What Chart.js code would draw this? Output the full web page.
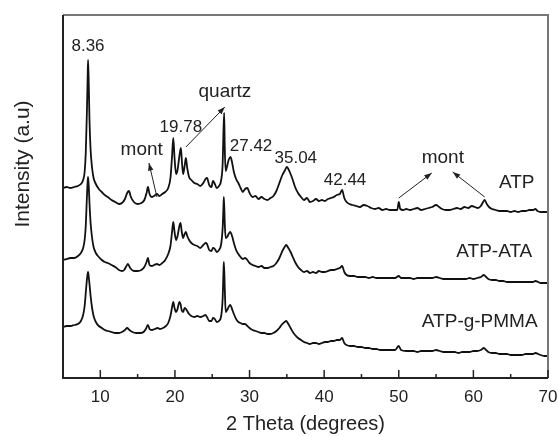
<!DOCTYPE html>
<html>
<head>
<meta charset="utf-8">
<script src="https://cdn.jsdelivr.net/npm/chart.js@4/dist/chart.umd.min.js"></script>
<style>
  html, body { margin: 0; padding: 0; background: #fff; }
  #wrap { width: 558px; height: 436px; }
</style>
</head>
<body>
<div id="wrap"><canvas id="xrdChart"></canvas></div>
<script>
// 2 theta (degrees) and intensity (a.u., stacked)
const atpTheta = [5.0, 5.5, 6.0, 6.5, 7.0, 7.4, 7.7, 7.9, 8.05, 8.2, 8.3, 8.36, 8.45, 8.55, 8.7, 8.9, 9.1, 9.4, 9.8, 10.2, 10.6, 11.0, 11.5, 12.0, 12.5, 12.9, 13.3, 13.6, 13.84, 14.1, 14.5, 15.0, 15.5, 15.9, 16.2, 16.38, 16.6, 16.9, 17.2, 17.6, 17.9, 18.3, 18.7, 19.1, 19.4, 19.6, 19.78, 19.95, 20.15, 20.35, 20.6, 20.8, 20.95, 21.1, 21.3, 21.47, 21.65, 21.9, 22.2, 22.6, 23.0, 23.4, 23.8, 24.1, 24.3, 24.6, 24.9, 25.1, 25.35, 25.6, 25.9, 26.2, 26.4, 26.5, 26.6, 26.68, 26.8, 27.0, 27.2, 27.45, 27.7, 27.9, 28.2, 28.5, 28.8, 29.1, 29.4, 29.7, 30.0, 30.4, 30.8, 31.2, 31.6, 32.0, 32.4, 32.8, 33.2, 33.6, 34.0, 34.4, 34.7, 35.0, 35.2, 35.5, 35.8, 36.1, 36.5, 36.9, 37.3, 37.7, 38.1, 38.5, 38.9, 39.3, 39.7, 40.1, 40.5, 40.9, 41.3, 41.7, 42.1, 42.4, 42.7, 43.0, 43.4, 43.8, 44.3, 44.8, 45.3, 45.8, 46.3, 46.8, 47.3, 47.8, 48.3, 48.8, 49.3, 49.8, 50.0, 50.2, 50.6, 51.0, 51.5, 52.0, 52.5, 53.0, 53.5, 54.0, 54.5, 55.0, 55.4, 55.8, 56.3, 56.8, 57.3, 57.8, 58.3, 58.8, 59.3, 59.8, 60.2, 60.6, 61.0, 61.3, 61.5, 61.8, 62.1, 62.5, 63.0, 63.5, 64.0, 64.5, 65.0, 65.5, 66.0, 66.5, 67.0, 67.5, 68.0, 68.3, 68.6, 69.0, 69.5, 70.0];
const atpIntensity = [190, 191, 190, 191, 192, 194, 198, 206, 225, 265, 300, 318, 295, 258, 228, 210, 200, 194, 189, 186, 183, 181, 178, 176, 174, 175, 179, 185, 187, 181, 176, 174, 175, 178, 185, 191, 184, 181, 182, 184, 182, 184, 186, 190, 200, 220, 240, 220, 204, 208, 222, 230, 215, 204, 212, 220, 210, 201, 198, 195, 194, 192, 195, 199, 200, 193, 191, 197, 194, 190, 192, 198, 215, 245, 265, 230, 207, 212, 218, 221, 214, 206, 199, 195, 190, 186, 189, 190, 185, 181, 182, 179, 181, 179, 178, 180, 182, 187, 195, 203, 207, 211, 209, 204, 198, 191, 185, 181, 178, 180, 176, 177, 179, 177, 178, 177, 179, 180, 181, 183, 184, 188, 180, 176, 174, 173, 172, 171, 173, 172, 170, 169, 170, 168, 169, 168, 168, 168, 176, 169, 168, 169, 168, 169, 170, 168, 169, 170, 171, 173, 171, 169, 168, 168, 169, 170, 169, 171, 170, 172, 171, 170, 172, 176, 178, 174, 171, 169, 168, 167, 167, 167, 166, 167, 166, 167, 167, 168, 168, 169, 167, 166, 166, 166];

const ataTheta = [5.0, 5.5, 6.0, 6.5, 7.0, 7.4, 7.7, 7.9, 8.05, 8.2, 8.3, 8.36, 8.45, 8.55, 8.7, 8.9, 9.1, 9.4, 9.8, 10.2, 10.6, 11.0, 11.5, 12.0, 12.5, 12.9, 13.2, 13.5, 13.7, 14.0, 14.5, 15.0, 15.5, 15.9, 16.2, 16.38, 16.6, 16.9, 17.2, 17.6, 17.9, 18.3, 18.7, 19.1, 19.4, 19.6, 19.78, 19.95, 20.15, 20.35, 20.6, 20.75, 20.9, 21.1, 21.3, 21.47, 21.65, 21.9, 22.2, 22.6, 23.0, 23.4, 23.8, 24.1, 24.3, 24.6, 24.9, 25.1, 25.35, 25.6, 25.9, 26.2, 26.4, 26.5, 26.56, 26.68, 26.8, 27.0, 27.2, 27.4, 27.7, 27.9, 28.2, 28.5, 28.8, 29.1, 29.4, 29.7, 30.0, 30.4, 30.8, 31.2, 31.6, 32.0, 32.4, 32.8, 33.2, 33.6, 34.0, 34.4, 34.7, 34.9, 35.2, 35.5, 35.8, 36.1, 36.5, 36.9, 37.3, 37.7, 38.1, 38.5, 38.9, 39.3, 39.7, 40.1, 40.5, 40.9, 41.3, 41.7, 42.1, 42.4, 42.7, 43.0, 43.5, 44.0, 44.5, 45.0, 45.5, 46.0, 46.5, 47.0, 47.5, 48.0, 48.5, 49.0, 49.5, 50.0, 50.3, 51.0, 51.5, 52.0, 52.5, 53.0, 53.5, 54.0, 54.5, 55.0, 55.5, 56.0, 56.5, 57.0, 57.5, 58.0, 58.5, 59.0, 59.5, 60.0, 60.5, 61.0, 61.4, 61.7, 62.0, 62.5, 63.0, 63.5, 64.0, 64.5, 65.0, 65.5, 66.0, 66.5, 67.0, 67.5, 68.0, 68.3, 68.7, 69.0, 69.5, 70.0];
const ataIntensity = [118, 119, 120, 120, 122, 125, 130, 138, 152, 180, 196, 201, 192, 175, 155, 140, 131, 125, 121, 118, 116, 115, 113, 111, 108, 107, 108, 112, 114, 110, 107, 107, 108, 111, 116, 120, 113, 112, 113, 114, 113, 115, 118, 124, 132, 145, 156, 146, 138, 142, 152, 155, 147, 140, 144, 146, 142, 138, 135, 133, 132, 130, 133, 135, 134, 128, 127, 130, 129, 126, 128, 134, 150, 170, 181, 155, 140, 141, 144, 146, 141, 135, 128, 124, 121, 119, 120, 118, 115, 113, 112, 111, 112, 110, 110, 111, 112, 115, 120, 127, 131, 133, 130, 126, 121, 116, 111, 108, 106, 107, 105, 106, 105, 107, 106, 106, 107, 108, 108, 109, 110, 112, 106, 103, 102, 102, 101, 101, 101, 100, 101, 100, 100, 100, 100, 100, 100, 102, 100, 100, 100, 99, 100, 100, 100, 100, 100, 101, 100, 99, 99, 99, 99, 99, 99, 99, 100, 99, 100, 101, 103, 101, 99, 98, 98, 97, 97, 96, 96, 96, 96, 96, 96, 96, 96, 97, 96, 95, 95, 95];

const pmmaTheta = [5.0, 5.5, 6.0, 6.5, 7.0, 7.4, 7.7, 7.9, 8.05, 8.2, 8.3, 8.36, 8.45, 8.55, 8.7, 8.9, 9.1, 9.4, 9.8, 10.2, 10.6, 11.0, 11.5, 12.0, 12.5, 12.9, 13.3, 13.6, 13.9, 14.3, 14.8, 15.3, 15.8, 16.1, 16.38, 16.6, 16.9, 17.3, 17.7, 18.0, 18.4, 18.8, 19.1, 19.4, 19.6, 19.78, 19.95, 20.15, 20.35, 20.6, 20.75, 20.9, 21.1, 21.3, 21.47, 21.65, 21.9, 22.2, 22.6, 23.0, 23.4, 23.8, 24.1, 24.3, 24.6, 24.9, 25.1, 25.35, 25.6, 25.9, 26.2, 26.4, 26.5, 26.56, 26.68, 26.8, 27.0, 27.2, 27.4, 27.7, 27.9, 28.2, 28.5, 28.8, 29.1, 29.4, 29.7, 30.0, 30.4, 30.8, 31.2, 31.6, 32.0, 32.4, 32.8, 33.2, 33.6, 34.0, 34.4, 34.7, 34.9, 35.2, 35.5, 35.8, 36.1, 36.5, 36.9, 37.3, 37.7, 38.1, 38.5, 38.9, 39.3, 39.7, 40.1, 40.5, 40.9, 41.3, 41.7, 42.1, 42.4, 42.7, 43.0, 43.5, 44.0, 44.5, 45.0, 45.5, 46.0, 46.5, 47.0, 47.5, 48.0, 48.5, 49.0, 49.5, 50.0, 50.3, 51.0, 51.5, 52.0, 52.5, 53.0, 53.5, 54.0, 54.5, 55.0, 55.5, 56.0, 56.5, 57.0, 57.5, 58.0, 58.5, 59.0, 59.5, 60.0, 60.5, 61.0, 61.4, 61.7, 62.0, 62.5, 63.0, 63.5, 64.0, 64.5, 65.0, 65.5, 66.0, 66.5, 67.0, 67.5, 68.0, 68.3, 68.7, 69.0, 69.5, 70.0];
const pmmaIntensity = [51, 52, 52, 53, 54, 57, 63, 72, 85, 98, 104, 106, 101, 94, 82, 70, 62, 56, 52, 50, 48, 47, 46, 45, 45, 46, 48, 50, 48, 46, 45, 45, 46, 49, 53, 49, 48, 49, 50, 49, 50, 52, 55, 62, 70, 76, 70, 66, 69, 76, 74, 68, 66, 70, 69, 67, 64, 62, 61, 62, 61, 62, 63, 61, 57, 57, 60, 59, 56, 57, 62, 80, 105, 116, 90, 66, 68, 71, 73, 68, 64, 59, 56, 55, 54, 54, 52, 50, 48, 47, 46, 45, 45, 44, 44, 45, 47, 50, 54, 56, 57, 54, 50, 46, 43, 40, 38, 36, 35, 34, 35, 35, 34, 35, 36, 36, 37, 37, 38, 38, 40, 35, 33, 32, 32, 31, 31, 30, 30, 29, 29, 28, 28, 28, 28, 28, 32, 28, 27, 27, 27, 26, 27, 27, 27, 27, 28, 27, 26, 26, 26, 26, 25, 26, 26, 26, 27, 27, 28, 30, 28, 26, 25, 25, 24, 24, 24, 23, 23, 23, 23, 24, 24, 24, 25, 24, 23, 22, 22];

const seriesNames = ["ATP", "ATP-ATA", "ATP-g-PMMA"];
const xTickValues = [10, 20, 30, 40, 50, 60, 70];
const xMinorTicks = [15, 25, 35, 45, 55, 65];

// annotation text, placed in data units (theta, intensity)
const notes = [
  { text: "8.36", x: 8.35, y: 332, size: 17 },
  { text: "mont", x: 15.55, y: 228, size: 19 },
  { text: "19.78", x: 20.8, y: 251, size: 17 },
  { text: "quartz", x: 26.7, y: 286, size: 19 },
  { text: "27.42", x: 30.2, y: 232, size: 17 },
  { text: "35.04", x: 36.2, y: 220, size: 17 },
  { text: "42.44", x: 42.8, y: 198, size: 17 },
  { text: "mont", x: 55.9, y: 220, size: 19 },
  { text: seriesNames[0], x: 65.8, y: 195, size: 19 },
  { text: seriesNames[1], x: 62.8, y: 126, size: 19 },
  { text: seriesNames[2], x: 60.85, y: 56, size: 19 }
];
const arrows = [
  { from: [17.59, 181], to: [16.52, 215] },
  { from: [21.47, 231], to: [26.69, 271] },
  { from: [50.0, 180], to: [54.42, 205] },
  { from: [61.52, 181], to: [57.23, 206] }
];

const FONT = "'Liberation Sans', Arial, sans-serif";

function toPoints(xs, ys) {
  return xs.map((x, i) => ({ x: x, y: ys[i] }));
}

const decor = {
  id: "decor",
  afterDatasetsDraw(chart) {
    const { ctx, chartArea: a, scales } = chart;
    const xs = scales.x, ys = scales.y;
    ctx.save();

    // frame: dark left/bottom, grey top/right
    ctx.lineWidth = 2;
    ctx.strokeStyle = "#777";
    ctx.beginPath();
    ctx.moveTo(a.left, a.top);
    ctx.lineTo(a.right, a.top);
    ctx.lineTo(a.right, a.bottom);
    ctx.stroke();
    ctx.strokeStyle = "#222";
    ctx.beginPath();
    ctx.moveTo(a.left, a.top);
    ctx.lineTo(a.left, a.bottom);
    ctx.lineTo(a.right, a.bottom);
    ctx.stroke();

    // inward ticks
    ctx.lineWidth = 1.5;
    xTickValues.forEach(v => {
      const px = xs.getPixelForValue(v);
      ctx.beginPath();
      ctx.moveTo(px, a.bottom);
      ctx.lineTo(px, a.bottom - 8);
      ctx.stroke();
    });
    xMinorTicks.forEach(v => {
      const px = xs.getPixelForValue(v);
      ctx.beginPath();
      ctx.moveTo(px, a.bottom);
      ctx.lineTo(px, a.bottom - 4);
      ctx.stroke();
    });

    // labels
    ctx.fillStyle = "#222";
    ctx.textAlign = "center";
    ctx.textBaseline = "middle";
    notes.forEach(n => {
      ctx.font = n.size + "px " + FONT;
      ctx.fillText(n.text, xs.getPixelForValue(n.x), ys.getPixelForValue(n.y));
    });

    // arrows
    ctx.strokeStyle = "#222";
    ctx.lineWidth = 1;
    arrows.forEach(ar => {
      const x1 = xs.getPixelForValue(ar.from[0]), y1 = ys.getPixelForValue(ar.from[1]);
      const x2 = xs.getPixelForValue(ar.to[0]), y2 = ys.getPixelForValue(ar.to[1]);
      const ang = Math.atan2(y2 - y1, x2 - x1);
      ctx.beginPath();
      ctx.moveTo(x1, y1);
      ctx.lineTo(x2, y2);
      ctx.stroke();
      ctx.beginPath();
      ctx.moveTo(x2, y2);
      ctx.lineTo(x2 - 8 * Math.cos(ang - 0.35), y2 - 8 * Math.sin(ang - 0.35));
      ctx.lineTo(x2 - 8 * Math.cos(ang + 0.35), y2 - 8 * Math.sin(ang + 0.35));
      ctx.closePath();
      ctx.fill();
    });

    // y axis title
    ctx.font = "21px " + FONT;
    ctx.translate(23, 164);
    ctx.rotate(-Math.PI / 2);
    ctx.fillText("Intensity (a.u)", 0, 0);
    ctx.restore();
  }
};

const lineStyle = {
  borderColor: "#111",
  borderWidth: 1.8,
  pointRadius: 0,
  cubicInterpolationMode: "monotone",
  fill: false
};

new Chart(document.getElementById("xrdChart"), {
  type: "line",
  data: {
    datasets: [
      { label: seriesNames[0], data: toPoints(atpTheta, atpIntensity), ...lineStyle },
      { label: seriesNames[1], data: toPoints(ataTheta, ataIntensity), ...lineStyle },
      { label: seriesNames[2], data: toPoints(pmmaTheta, pmmaIntensity), ...lineStyle }
    ]
  },
  options: {
    responsive: true,
    maintainAspectRatio: false,
    animation: false,
    layout: { padding: { left: 63, right: 10, top: 15, bottom: 0 } },
    plugins: {
      legend: { display: false },
      tooltip: { enabled: false }
    },
    scales: {
      x: {
        type: "linear",
        min: 5,
        max: 70,
        grid: { display: false, drawTicks: false },
        border: { display: false },
        afterBuildTicks: (scale) => {
          scale.ticks = xTickValues.map(v => ({ value: v }));
        },
        afterFit: (scale) => {
          scale.height = 58;
          scale.paddingLeft = 0;
          scale.paddingRight = 0;
        },
        ticks: {
          padding: 9,
          color: "#222",
          font: { family: FONT, size: 17 },
          maxRotation: 0
        },
        title: {
          display: true,
          text: "2 Theta (degrees)",
          color: "#222",
          font: { family: FONT, size: 20 },
          padding: { top: 0, bottom: 0 }
        }
      },
      y: {
        display: false,
        min: 0,
        max: 363
      }
    }
  },
  plugins: [decor]
});
</script>
</body>
</html>
